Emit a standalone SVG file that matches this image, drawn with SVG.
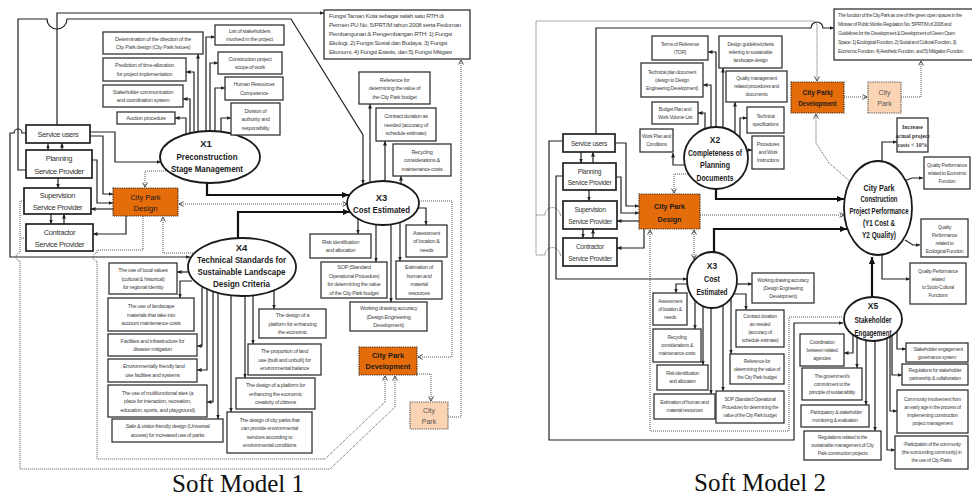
<svg xmlns="http://www.w3.org/2000/svg" width="972" height="497" viewBox="0 0 972 497">
<defs>
<style>
.bx{fill:#fff;stroke:#333;stroke-width:1.3}
.pv{fill:#fff;stroke:#222;stroke-width:1.7}
.el{fill:#fff;stroke:#1a1a1a;stroke-width:1.8}
.or{fill:#E46C0A;stroke:#3a2a1a;stroke-width:1.2;stroke-dasharray:1.2 1}
.pe{fill:#FBD4B4;stroke:#555;stroke-width:1.2;stroke-dasharray:1.2 1}
text{font-family:'Liberation Sans',Arial,sans-serif;text-anchor:middle}
.s{font-size:5.5px;fill:#444;letter-spacing:-0.3px}
.s2{font-size:5px;fill:#444;letter-spacing:-0.3px}
.sl{text-anchor:start}
.p{font-size:7.5px;fill:#333;letter-spacing:-0.35px}
.p2{font-size:6.6px;fill:#333;letter-spacing:-0.3px}
.et{font-size:9.5px;font-weight:bold;fill:#1a1a1a}
.et2{font-size:8.5px;font-weight:bold;fill:#1a1a1a}
.ot{font-size:8px;font-weight:bold;fill:#1a1a1a}
.pk{font-size:7px;fill:#555}
.inc{font-family:'Liberation Serif',serif;font-size:5.8px;font-weight:bold;fill:#333}
.cap{font-family:'Liberation Serif','Times New Roman',serif;font-size:25px;fill:#111}
.c{fill:none;stroke:#222;stroke-width:1.2;marker-end:url(#ah)}
.n{fill:none;stroke:#222;stroke-width:1.2}
.k{fill:none;stroke:#111;stroke-width:2.2;marker-end:url(#ahb)}
.d{fill:none;stroke:#555;stroke-width:1;stroke-dasharray:1 1;marker-end:url(#ao)}
.dn{fill:none;stroke:#555;stroke-width:1;stroke-dasharray:1 1}
.dd{marker-start:url(#ao)}
</style>
<marker id="ah" viewBox="0 0 8 8" refX="8" refY="4" markerWidth="4.5" markerHeight="4.5" markerUnits="userSpaceOnUse" orient="auto"><path d="M0,0.5 L8,4 L0,7.5 z" fill="#222"/></marker>
<marker id="ahb" viewBox="0 0 8 8" refX="8" refY="4" markerWidth="7" markerHeight="7" markerUnits="userSpaceOnUse" orient="auto"><path d="M0,0.5 L8,4 L0,7.5 z" fill="#111"/></marker>
<marker id="ao" viewBox="0 0 8 8" refX="7" refY="4" markerWidth="6" markerHeight="6" markerUnits="userSpaceOnUse" orient="auto-start-reverse"><path d="M1,0.8 L7,4 L1,7.2" fill="none" stroke="#444" stroke-width="1.3"/></marker>
</defs>
<rect width="972" height="497" fill="#fff"/>

<!-- ===================== connectors ===================== -->
<g id="connectors">
<!-- model 1: providers -->
<path class="c" d="M57,125 V13 H324"/>
<path class="c" d="M26,170 H18 V19 H47 A10,10 0 0,0 67,19 H291 L363,135 V184"/>
<path class="c" d="M26,133 H22 A4,4 0 0,0 14,133 H10 V257 H190"/>
<path class="c" d="M90,132 H115 V162 H161"/>
<path class="c" d="M90,136 H103 V194 H113"/>
<path class="c" d="M92,160 H97 V203 H113"/>
<path class="c" d="M113,209 H91"/>
<path class="c" d="M126,216 V234 H93"/>
<path class="c" d="M48,143 V150"/>
<path class="c" d="M62,150 V143"/>
<path class="c" d="M58,178 V188"/>
<path class="c" d="M51,214 V224"/>
<path class="c" d="M64,224 V214"/>
<!-- model 1: X1 branches -->
<path class="c" d="M198,140 V54"/>
<path class="c" d="M194,140 V72 H186"/>
<path class="c" d="M190,140 V99 H183"/>
<path class="c" d="M186,140 V118 H175"/>
<path class="c" d="M206,140 V37 H215"/>
<path class="c" d="M210,140 V63 H218"/>
<path class="c" d="M215,140 V88 H225"/>
<path class="c" d="M221,140 V118 H231"/>
<path class="k" d="M207,175 V195 H349"/>
<path class="k" d="M238,245 V212 H350"/>
<path class="d" d="M168,171 H145 V187"/>
<path class="d dd" d="M179,204 H347"/>
<path class="d" d="M195,253 H163 V217"/>
<!-- model 1: X3 branches -->
<path class="c" d="M370,190 V104"/>
<path class="c" d="M385,190 V141"/>
<path class="c" d="M401,190 V176"/>
<path class="c" d="M358,215 V234"/>
<path class="c" d="M376,215 V262"/>
<path class="c" d="M391,215 V302"/>
<path class="c" d="M400,215 V261"/>
<path class="c" d="M415,208 H426 V225"/>
<!-- model 1: X4 branches -->
<path class="c" d="M192,272 H177"/>
<path class="c" d="M192,281 H180 V298"/>
<path class="c" d="M202,285 V346 H197"/>
<path class="c" d="M207,285 V370 H197"/>
<path class="c" d="M213,285 V402 H207"/>
<path class="c" d="M218,285 V419"/>
<path class="c" d="M231,285 V412"/>
<path class="c" d="M245,285 V378"/>
<path class="c" d="M253,285 V344"/>
<path class="c" d="M274,285 V309"/>
<!-- model 1: development flows -->
<path class="d" d="M419,201 H452 V357 H418"/>
<path class="d" d="M417,374 H431 V401"/>
<path class="d" d="M448,417 H461 V60"/>
<path class="dn" d="M26,238 H20"/>
<path class="d" d="M24,201 H20 V253 A4,4 0 0,0 20,261 V469 H330 L395,407 V376"/>
<path class="d" d="M143,216 V250 H97 V253 A4,4 0 0,0 97,261 V459 H325 L385,402 V376"/>

<!-- model 2: providers -->
<path class="c" d="M596,134 V28 H811 A6,6 0 0,1 823,28 H834"/>
<path class="dn" d="M563,215 H560 A7.5,7.5 0 0,0 545,215 H536"/>
<path class="d" d="M563,255 H560 A7.5,7.5 0 0,0 545,255 H536 V21 H812 Q817,21 817,26 V81"/>
<path class="c" d="M563,176 H556 V279 H687"/>
<path class="c" d="M563,141 H549 V440 H794 V323 H843"/>
<path class="c" d="M615,143 H626 V206 H639"/>
<path class="c" d="M616,177 H621 V213 H639"/>
<path class="c" d="M639,221 H617"/>
<path class="c" d="M644,229 V248 H617"/>
<path class="c" d="M581,152 V163"/>
<path class="c" d="M593,163 V152"/>
<path class="c" d="M589,190 V201"/>
<path class="c" d="M583,229 V238"/>
<path class="c" d="M593,238 V229"/>
<path class="d" d="M688,174 H674 V193"/>
<path class="d dd" d="M694,230 V259"/>
<path class="d" d="M700,215 H844"/>
<path class="d" d="M842,317 H789 V431 H650 V230"/>
<path class="k" d="M716,186 V199 H844"/>
<path class="k" d="M714,256 V229 H847"/>
<path class="k" d="M872,298 V257"/>
<!-- model 2: X2 branches -->
<path class="c" d="M716,140 V52 H708"/>
<path class="c" d="M711,140 V85 H703"/>
<path class="c" d="M705,140 V113 H698"/>
<path class="c" d="M690,165 H673 V153"/>
<path class="c" d="M723,140 V68"/>
<path class="c" d="M735,140 V102"/>
<path class="c" d="M740,142 V118 H747"/>
<path class="c" d="M740,150 H752"/>
<!-- model 2: X3 branches -->
<path class="c" d="M695,284 H676 V293"/>
<path class="c" d="M695,295 V329"/>
<path class="c" d="M703,295 V365"/>
<path class="c" d="M711,295 V394"/>
<path class="c" d="M723,295 V391"/>
<path class="c" d="M731,295 V354"/>
<path class="c" d="M730,294 H746 V310"/>
<path class="c" d="M730,284 H752"/>
<!-- model 2: performance -->
<path class="c" d="M882,165 V142 H897"/>
<path class="d" d="M853,184 L829,163 L816,143 V114"/>
<path class="c" d="M904,181 L912,178 H923"/>
<path class="c" d="M905,240 L913,245 H920"/>
<path class="c" d="M882,250 V279 H910"/>
<path class="d" d="M844,97 H867"/>
<path class="d" d="M901,97 H921 V61"/>
<!-- model 2: X5 branches -->
<path class="c" d="M853,328 V353 H844"/>
<path class="c" d="M857,328 V368"/>
<path class="c" d="M866,328 V405"/>
<path class="c" d="M875,328 V431"/>
<path class="c" d="M897,328 V349 H906"/>
<path class="c" d="M892,328 V375 H902"/>
<path class="c" d="M890,328 V411 H897"/>
<path class="c" d="M887,328 V450 H895"/>
</g>

<!-- ===================== Soft Model 1 ===================== -->
<g id="m1-fungsi"><rect class="bx" x="324" y="10" width="146" height="49"/>
<text class="s sl" style="font-size:6.2px" x="329" y="18">Fungsi Taman Kota sebagai salah satu RTH di</text>
<text class="s sl" style="font-size:6.2px" x="329" y="27">Permen PU No. 5/PRT/M tahun 2008 serta Pedoman</text>
<text class="s sl" style="font-size:6.2px" x="329" y="36">Pembangunan &amp; Pengembangan RTH: 1) Fungsi</text>
<text class="s sl" style="font-size:6.2px" x="329" y="45">Ekologi, 2) Fungsi Sosial dan Budaya, 3) Fungsi</text>
<text class="s sl" style="font-size:6.2px" x="329" y="54">Ekonomi, 4) Fungsi Estetis, dan 5) Fungsi Mitigasi</text></g>

<g id="m1-service-users"><rect class="pv" x="26" y="125" width="64" height="18"/><text class="p" x="58" y="137">Service users</text></g>
<g id="m1-planning"><rect class="pv" x="26" y="150" width="66" height="28"/><text class="p" x="59" y="161">Planning</text><text class="p" x="59" y="174">Service Provider</text></g>
<g id="m1-supervision"><rect class="pv" x="24" y="188" width="67" height="26"/><text class="p" x="57.5" y="198">Supervision</text><text class="p" x="57.5" y="210">Service Provider</text></g>
<g id="m1-contractor"><rect class="pv" x="26" y="224" width="67" height="27"/><text class="p" x="59.5" y="235">Contractor</text><text class="p" x="59.5" y="247">Service Provider</text></g>

<g id="m1-city-park-design"><rect class="or" x="113" y="188" width="65" height="28"/><text class="ot" style="font-weight:normal" x="145.5" y="200" textLength="30" lengthAdjust="spacingAndGlyphs">City Park</text><text class="ot" style="font-weight:normal" x="145.5" y="211" textLength="24" lengthAdjust="spacingAndGlyphs">Design</text></g>

<g id="m1-x1"><ellipse class="el" cx="210" cy="157" rx="50" ry="26"/>
<text class="et" x="206" y="147">X1</text>
<text class="et" x="207" y="160" textLength="61" lengthAdjust="spacingAndGlyphs">Preconstruction</text>
<text class="et" x="207" y="172" textLength="72" lengthAdjust="spacingAndGlyphs">Stage Management</text></g>

<g id="m1-determination"><rect class="bx" x="103" y="32" width="100" height="22"/><text class="s" x="153" y="40.8">Determination of the direction of the</text><text class="s" x="153" y="49.3">City Park design (City Park Issues)</text></g>
<g id="m1-prediction"><rect class="bx" x="103" y="58" width="83" height="23"/><text class="s" x="144.5" y="67.3">Prediction of time-allocation</text><text class="s" x="144.5" y="75.8">for project implementation</text></g>
<g id="m1-communication"><rect class="bx" x="103" y="85" width="80" height="22"/><text class="s" x="143" y="93.8">Stakeholder communication</text><text class="s" x="143" y="102.3">and coordination system</text></g>
<g id="m1-auction"><rect class="bx" x="117" y="112" width="58" height="12"/><text class="s" x="146" y="120">Auction procedure</text></g>
<g id="m1-stakeholders"><rect class="bx" x="215" y="25" width="69" height="20"/><text class="s" x="249.5" y="32.8">List of stakeholders</text><text class="s" x="249.5" y="41.3">involved in the project</text></g>
<g id="m1-scope"><rect class="bx" x="218" y="52" width="64" height="22"/><text class="s" x="250" y="60.8">Construction project</text><text class="s" x="250" y="69.3">scope of work</text></g>
<g id="m1-hr"><rect class="bx" x="225" y="77" width="58" height="23"/><text class="s" x="254" y="86.3">Human Resources</text><text class="s" x="254" y="94.8">Competence</text></g>
<g id="m1-division"><rect class="bx" x="231" y="103" width="49" height="32"/><text class="s" x="255.5" y="112.5">Division of</text><text class="s" x="255.5" y="121">authority and</text><text class="s" x="255.5" y="129.5">responsibility</text></g>

<g id="m1-x3"><ellipse class="el" cx="383" cy="203" rx="36" ry="22"/>
<text class="et" x="381.5" y="201">X3</text>
<text class="et" x="381.5" y="213" textLength="57" lengthAdjust="spacingAndGlyphs">Cost Estimated</text></g>

<g id="m1-reference"><rect class="bx" x="359" y="72" width="71" height="32"/><text class="s" x="394.5" y="81.5">Reference for</text><text class="s" x="394.5" y="90">determining the value of</text><text class="s" x="394.5" y="98.5">the City Park  budget</text></g>
<g id="m1-contract"><rect class="bx" x="376" y="108" width="60" height="33"/><text class="s" x="406" y="118">Contract duration as</text><text class="s" x="406" y="126.5">needed (accuracy of</text><text class="s" x="406" y="135">schedule estimate)</text></g>
<g id="m1-recycling"><rect class="bx" x="393" y="144" width="58" height="32"/><text class="s" x="422" y="153.5">Recycling</text><text class="s" x="422" y="162">considerations &amp;</text><text class="s" x="422" y="170.5">maintenance costs</text></g>
<g id="m1-risk"><rect class="bx" x="310" y="234" width="61" height="24"/><text class="s" x="340.5" y="243.8">Risk identification</text><text class="s" x="340.5" y="252.3">and allocation</text></g>
<g id="m1-sop"><rect class="bx" x="321" y="262" width="66" height="36"/><text class="s" x="354" y="269.3">SOP (Standard</text><text class="s" x="354" y="277.8">Operational Procedure)</text><text class="s" x="354" y="286.3">for determining the value</text><text class="s" x="354" y="294.8">of the City Park budget</text></g>
<g id="m1-assessment"><rect class="bx" x="406" y="225" width="41" height="32"/><text class="s" x="426.5" y="234.5">Assessment</text><text class="s" x="426.5" y="243">of location &amp;</text><text class="s" x="426.5" y="251.5">needs</text></g>
<g id="m1-estimation"><rect class="bx" x="396" y="261" width="46" height="38"/><text class="s" x="419" y="269.3">Estimation of</text><text class="s" x="419" y="277.8">human and</text><text class="s" x="419" y="286.3">material</text><text class="s" x="419" y="294.8">resources</text></g>
<g id="m1-working"><rect class="bx" x="350" y="302" width="77" height="29"/><text class="s" x="388.5" y="310">Working drawing accuracy</text><text class="s" x="388.5" y="318.5">(Design Engineering</text><text class="s" x="388.5" y="327">Development)</text></g>

<g id="m1-x4"><ellipse class="el" cx="242" cy="267" rx="54" ry="29"/>
<text class="et" x="241.5" y="251">X4</text>
<text class="et" x="241.5" y="263" textLength="89" lengthAdjust="spacingAndGlyphs">Technical Standards for</text>
<text class="et" x="241.5" y="275" textLength="88" lengthAdjust="spacingAndGlyphs">Sustainable Landscape</text>
<text class="et" x="241.5" y="287" textLength="57" lengthAdjust="spacingAndGlyphs">Design Criteria</text></g>

<g id="m1-local-values"><rect class="bx" x="109" y="263" width="68" height="31"/><text class="s" x="143" y="272">The use of local values</text><text class="s" x="143" y="280.5">(cultural &amp; historical)</text><text class="s" x="143" y="289">for regional identity</text></g>
<g id="m1-materials"><rect class="bx" x="108" y="298" width="86" height="33"/><text class="s" x="151" y="308">The use of landscape</text><text class="s" x="151" y="316.5">materials that take into</text><text class="s" x="151" y="325">account maintenance costs</text></g>
<g id="m1-disaster"><rect class="bx" x="108" y="334" width="89" height="22"/><text class="s" x="152.5" y="342.8">Facilities and infrastructure for</text><text class="s" x="152.5" y="351.3">disaster mitigation</text></g>
<g id="m1-land-use"><rect class="bx" x="108" y="359" width="89" height="23"/><text class="s" x="152.5" y="368.3">: Environmentally friendly land</text><text class="s" x="152.5" y="376.8">use facilities and systems</text></g>
<g id="m1-multifunctional"><rect class="bx" x="108" y="385" width="99" height="32"/><text class="s" x="157.5" y="394.5">The use of multifunctional sites (a</text><text class="s" x="157.5" y="403">place for interaction, recreation,</text><text class="s" x="157.5" y="411.5">education, sports, and playground)</text></g>
<g id="m1-safe"><rect class="bx" x="112" y="419" width="111" height="23"/><text class="s" x="167.5" y="428.3">Safe &amp; visitor-friendly design (Universal</text><text class="s" x="167.5" y="436.8">access) for  increased use of parks</text></g>
<g id="m1-platform"><rect class="bx" x="259" y="309" width="67" height="29"/><text class="s" x="292.5" y="317">The design of a</text><text class="s" x="292.5" y="325.5">platform for enhancing</text><text class="s" x="292.5" y="334">the economic</text></g>
<g id="m1-proportion"><rect class="bx" x="248" y="344" width="73" height="31"/><text class="s" x="284.5" y="353">The proportion of land</text><text class="s" x="284.5" y="361.5">use (built and unbuilt) for</text><text class="s" x="284.5" y="370">environmental balance</text></g>
<g id="m1-creativity"><rect class="bx" x="236" y="378" width="79" height="31"/><text class="s" x="275.5" y="387">The design of a platform for</text><text class="s" x="275.5" y="395.5">enhancing the economic</text><text class="s" x="275.5" y="404">creativity of citizens</text></g>
<g id="m1-services"><rect class="bx" x="227" y="412" width="85" height="41"/><text class="s" x="269.5" y="421.8">The design of city parks that</text><text class="s" x="269.5" y="430.3">can provide environmental</text><text class="s" x="269.5" y="438.8">services according to</text><text class="s" x="269.5" y="447.3">environmental conditions</text></g>

<g id="m1-development"><rect class="or" x="359" y="347" width="58" height="28"/><text class="ot" x="388" y="358" textLength="32" lengthAdjust="spacingAndGlyphs">City Park</text><text class="ot" x="388" y="369" textLength="45" lengthAdjust="spacingAndGlyphs">Development</text></g>
<g id="m1-city-park"><rect class="pe" x="410" y="402" width="38" height="27"/><text class="pk" x="429" y="412.5">City</text><text class="pk" x="429" y="423.5">Park</text></g>

<text class="cap" x="238" y="492">Soft Model 1</text>

<!-- ===================== Soft Model 2 ===================== -->
<g id="m2-function"><rect class="bx" x="834" y="9" width="145" height="51"/>
<text class="s2 sl" style="letter-spacing:-0.4px" x="838" y="17">The function of the City Park as one of the green open spaces in the</text>
<text class="s2 sl" style="letter-spacing:-0.4px" x="838" y="26">Minister of Public Works Regulation No. 5/PRT/M of 2008 and</text>
<text class="s2 sl" style="letter-spacing:-0.4px" x="838" y="35">Guidelines for the Development &amp; Development of Green Open</text>
<text class="s2 sl" style="letter-spacing:-0.4px" x="838" y="44">Space: 1) Ecological Function, 2) Social and Cultural Function, 3)</text>
<text class="s2 sl" style="letter-spacing:-0.4px" x="838" y="53">Economic Function, 4) Aesthetic Function, and 5) Mitigation Function</text></g>

<g id="m2-service-users"><rect class="pv" x="563" y="134" width="52" height="18"/><text class="p2" x="589" y="145.5">Service users</text></g>
<g id="m2-planning"><rect class="pv" x="563" y="163" width="53" height="27"/><text class="p2" x="589.5" y="174">Planning</text><text class="p2" x="589.5" y="185">Service Provider</text></g>
<g id="m2-supervision"><rect class="pv" x="563" y="201" width="54" height="28"/><text class="p2" x="590" y="212">Supervision</text><text class="p2" x="590" y="224">Service Provider</text></g>
<g id="m2-contractor"><rect class="pv" x="563" y="238" width="54" height="28"/><text class="p2" x="590" y="249">Contractor</text><text class="p2" x="590" y="261">Service Provider</text></g>

<g id="m2-city-park-design"><rect class="or" x="639" y="194" width="61" height="35"/><text class="ot" x="669.5" y="209" textLength="31" lengthAdjust="spacingAndGlyphs">City Park</text><text class="ot" x="669.5" y="222" textLength="24" lengthAdjust="spacingAndGlyphs">Design</text></g>

<g id="m2-x2"><ellipse class="el" cx="716" cy="158" rx="32" ry="31"/>
<text class="et2" x="715" y="143">X2</text>
<text class="et2" x="715" y="156" textLength="54" lengthAdjust="spacingAndGlyphs">Completeness of</text>
<text class="et2" x="715" y="168" textLength="30" lengthAdjust="spacingAndGlyphs">Planning</text>
<text class="et2" x="715" y="181" textLength="37" lengthAdjust="spacingAndGlyphs">Documents</text></g>

<g id="m2-tor"><rect class="bx" x="652" y="36" width="56" height="24"/><text class="s2" x="680" y="45.9">Terms of Reference</text><text class="s2" x="680" y="53.9">(TOR)</text></g>
<g id="m2-technical-plan"><rect class="bx" x="641" y="63" width="62" height="34"/><text class="s2" x="672" y="73.9">Technical plan document</text><text class="s2" x="672" y="81.9">(design to Design</text><text class="s2" x="672" y="89.9">Engineering Development)</text></g>
<g id="m2-budget"><rect class="bx" x="652" y="102" width="46" height="22"/><text class="s2" x="675" y="110.9">Budget Plan and</text><text class="s2" x="675" y="118.9">Work Volume List</text></g>
<g id="m2-work-plan"><rect class="bx" x="640" y="129" width="33" height="23"/><text class="s2" x="656.5" y="138.4">Work Plan and</text><text class="s2" x="656.5" y="146.4">Conditions</text></g>
<g id="m2-guideline"><rect class="bx" x="719" y="36" width="63" height="32"/><text class="s2" x="750.5" y="45.9">Design guideline/criteria</text><text class="s2" x="750.5" y="53.9">referring to sustainable</text><text class="s2" x="750.5" y="61.9">landscape design</text></g>
<g id="m2-quality"><rect class="bx" x="726" y="71" width="61" height="31"/><text class="s2" x="756.5" y="80.4">Quality management</text><text class="s2" x="756.5" y="88.4">related procedures and</text><text class="s2" x="756.5" y="96.4">documents</text></g>
<g id="m2-specs"><rect class="bx" x="747" y="107" width="37" height="26"/><text class="s2" x="765.5" y="117.9">Technical</text><text class="s2" x="765.5" y="125.9">specifications</text></g>
<g id="m2-procedures"><rect class="bx" x="752" y="136" width="32" height="33"/><text class="s2" x="768" y="146.4">Procedures</text><text class="s2" x="768" y="154.4">and Work</text><text class="s2" x="768" y="162.4">Instructions</text></g>

<g id="m2-development"><rect class="or" x="791" y="82" width="53" height="31"/><text class="ot" x="817.5" y="95" textLength="30" lengthAdjust="spacingAndGlyphs">City Parkj</text><text class="ot" x="817.5" y="106" textLength="38" lengthAdjust="spacingAndGlyphs">Development</text></g>
<g id="m2-city-park"><rect class="pe" x="868" y="82" width="33" height="31"/><text class="pk" x="884.5" y="94.5">City</text><text class="pk" x="884.5" y="105.5">Park</text></g>
<g id="m2-increase"><rect class="bx" x="897" y="118" width="31" height="34"/><text class="inc" x="912.5" y="129">Increase</text><text class="inc" x="912.5" y="138">actual project</text><text class="inc" x="912.5" y="147">costs &lt; 10%</text></g>

<g id="m2-performance"><ellipse class="el" cx="878" cy="208" rx="34" ry="47"/>
<text class="et2" x="879" y="191" textLength="31" lengthAdjust="spacingAndGlyphs">City Park</text>
<text class="et2" x="879" y="202" textLength="37" lengthAdjust="spacingAndGlyphs">Construction</text>
<text class="et2" x="879" y="214" textLength="59" lengthAdjust="spacingAndGlyphs">Project Performance</text>
<text class="et2" x="879" y="226" textLength="32" lengthAdjust="spacingAndGlyphs">(Y1 Cost &amp;</text>
<text class="et2" x="879" y="238" textLength="34" lengthAdjust="spacingAndGlyphs">Y2 Quality)</text></g>

<g id="m2-economic"><rect class="bx" x="924" y="157" width="46" height="32"/><text class="s2" x="947" y="166.9">Quality Performance</text><text class="s2" x="947" y="174.9">related to Economic</text><text class="s2" x="947" y="182.9">Function</text></g>
<g id="m2-ecological"><rect class="bx" x="921" y="219" width="47" height="38"/><text class="s2" x="944.5" y="228.9">Quality</text><text class="s2" x="944.5" y="236.9">Performance</text><text class="s2" x="944.5" y="244.9">related to</text><text class="s2" x="944.5" y="252.9">Ecological Function</text></g>
<g id="m2-socio"><rect class="bx" x="910" y="263" width="56" height="41"/><text class="s2" x="938" y="273.4">Quality Performance</text><text class="s2" x="938" y="281.4">related</text><text class="s2" x="938" y="289.4">to Socio-Cultural</text><text class="s2" x="938" y="297.4">Functions</text></g>

<g id="m2-x3"><ellipse class="el" cx="712" cy="280" rx="25" ry="28"/>
<text class="et2" x="712" y="269">X3</text>
<text class="et2" x="712" y="282" textLength="16" lengthAdjust="spacingAndGlyphs">Cost</text>
<text class="et2" x="712" y="295" textLength="31" lengthAdjust="spacingAndGlyphs">Estimated</text></g>

<g id="m2-assessment"><rect class="bx" x="653" y="293" width="34" height="32"/><text class="s2" x="670" y="302.9">Assessment</text><text class="s2" x="670" y="310.9">of location &amp;</text><text class="s2" x="670" y="318.9">needs</text></g>
<g id="m2-recycling"><rect class="bx" x="653" y="329" width="48" height="33"/><text class="s2" x="677" y="339.4">Recycling</text><text class="s2" x="677" y="347.4">considerations &amp;</text><text class="s2" x="677" y="355.4">maintenance costs</text></g>
<g id="m2-risk"><rect class="bx" x="657" y="365" width="51" height="25"/><text class="s2" x="682.5" y="375.4">Risk identification</text><text class="s2" x="682.5" y="383.4">and allocation</text></g>
<g id="m2-estimation"><rect class="bx" x="654" y="394" width="61" height="25"/><text class="s2" x="684.5" y="404.4">Estimation of human and</text><text class="s2" x="684.5" y="412.4">material resources</text></g>
<g id="m2-working"><rect class="bx" x="752" y="273" width="62" height="30"/><text class="s2" x="783" y="281.9">Working drawing accuracy</text><text class="s2" x="783" y="289.9">(Design Engineering</text><text class="s2" x="783" y="297.9">Development)</text></g>
<g id="m2-contract"><rect class="bx" x="736" y="310" width="48" height="37"/><text class="s2" x="760" y="318.4">Contract duration</text><text class="s2" x="760" y="326.4">as needed</text><text class="s2" x="760" y="334.4">(accuracy of</text><text class="s2" x="760" y="342.4">schedule estimate)</text></g>
<g id="m2-reference"><rect class="bx" x="730" y="354" width="54" height="30"/><text class="s2" x="757" y="362.9">Reference for</text><text class="s2" x="757" y="370.9">determining the value of</text><text class="s2" x="757" y="378.9">the City Park  budget</text></g>
<g id="m2-sop"><rect class="bx" x="716" y="391" width="68" height="32"/><text class="s2" style="font-size:4.8px" x="750" y="400.9">SOP (Standard Operational</text><text class="s2" style="font-size:4.8px" x="750" y="408.9">Procedure) for determining the</text><text class="s2" style="font-size:4.8px" x="750" y="416.9">value of the City Park budget</text></g>

<g id="m2-x5"><ellipse class="el" cx="873" cy="319" rx="29" ry="22"/>
<text class="et2" x="873" y="309">X5</text>
<text class="et2" x="873" y="323" textLength="37" lengthAdjust="spacingAndGlyphs">Stakeholder</text>
<text class="et2" x="873" y="336" textLength="37" lengthAdjust="spacingAndGlyphs">Engagement</text></g>

<g id="m2-coordination"><rect class="bx" x="800" y="334" width="44" height="32"/><text class="s2" x="822" y="343.9">Coordination</text><text class="s2" x="822" y="351.9">between related</text><text class="s2" x="822" y="359.9">agencies</text></g>
<g id="m2-government"><rect class="bx" x="802" y="368" width="60" height="32"/><text class="s2" x="832" y="377.9">The government's</text><text class="s2" x="832" y="385.9">commitment to the</text><text class="s2" x="832" y="393.9">principle of sustainability</text></g>
<g id="m2-monitoring"><rect class="bx" x="801" y="405" width="68" height="22"/><text class="s2" x="835" y="413.9">: Participatory &amp; stakeholder</text><text class="s2" x="835" y="421.9">monitoring &amp; evaluation</text></g>
<g id="m2-regulations"><rect class="bx" x="804" y="431" width="77" height="29"/><text class="s2" x="842.5" y="439.4">Regulations related to the</text><text class="s2" x="842.5" y="447.4">sustainable management of City</text><text class="s2" x="842.5" y="455.4">Park construction projects</text></g>
<g id="m2-governance"><rect class="bx" x="906" y="343" width="62" height="19"/><text class="s2" x="937" y="351">: Stakeholder engagement</text><text class="s2" x="937" y="358.5">governance system</text></g>
<g id="m2-partnership"><rect class="bx" x="902" y="364" width="66" height="21"/><text class="s2" x="935" y="372.4">Regulations for stakeholder</text><text class="s2" x="935" y="380.4">partnership &amp; collaboration</text></g>
<g id="m2-community"><rect class="bx" x="897" y="390" width="71" height="43"/><text class="s2" x="932.5" y="401.4">Community involvement from</text><text class="s2" x="932.5" y="409.4">an early age in the process of</text><text class="s2" x="932.5" y="417.4">implementing construction</text><text class="s2" x="932.5" y="425.4">project management</text></g>
<g id="m2-participation"><rect class="bx" x="895" y="436" width="73" height="33"/><text class="s2" style="letter-spacing:-0.35px" x="931.5" y="446.4">: Participation of the community</text><text class="s2" x="931.5" y="454.4">(the surrounding community) in</text><text class="s2" x="931.5" y="462.4">the use of City Parks</text></g>

<text class="cap" x="760" y="491">Soft Model 2</text>
</svg>
